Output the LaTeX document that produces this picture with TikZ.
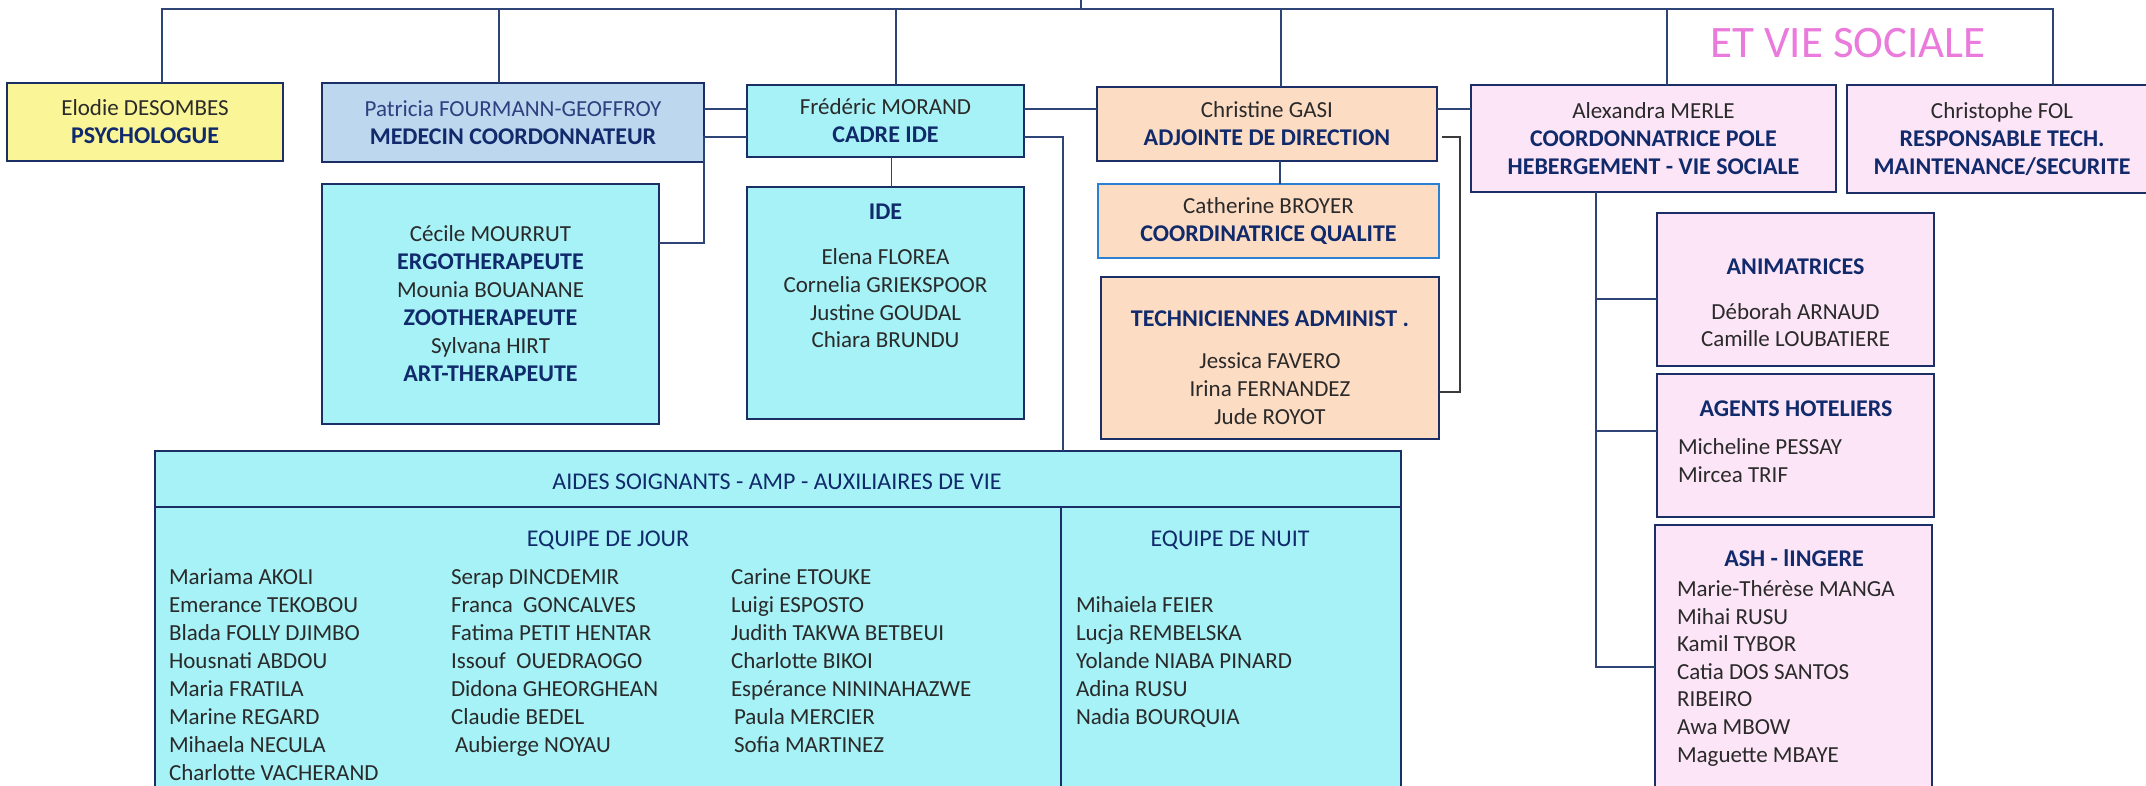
\documentclass[tikz,border=0pt]{standalone}
\usepackage{fontspec}
\setmainfont{Carlito}
\usepackage{xcolor}
\usepackage{tikz}
\usetikzlibrary{positioning}

\definecolor{boxline}{HTML}{1B2F66}
\definecolor{linkline}{HTML}{2F4476}
\definecolor{bracketcol}{HTML}{3A3A3A}
\definecolor{rolecol}{HTML}{102A6B}
\definecolor{patcol}{HTML}{2E4080}
\definecolor{namecol}{HTML}{2A2A2A}
\definecolor{yellowfill}{HTML}{FAF596}
\definecolor{bluefill}{HTML}{BDD7EE}
\definecolor{cyanfill}{HTML}{A6F2F6}
\definecolor{peachfill}{HTML}{FDDCC4}
\definecolor{pinkfill}{HTML}{FCE5F7}
\definecolor{qualline}{HTML}{2C80D2}
\definecolor{pinktitle}{HTML}{EA7ADC}

\newcommand{\roletxt}[1]{{\fontsize{24}{28}\selectfont\bfseries\color{rolecol}#1}}

\begin{document}
\begin{tikzpicture}[x=1pt,y=1pt]
\tikzstyle{every node}+=[inner sep=0pt, outer sep=0pt]
\tikzstyle{staff}=[draw=boxline, line width=2.5pt, align=center, text=namecol, font=\fontsize{23}{28}\selectfont]
\tikzstyle{link}=[draw=linkline, line width=1.5pt]
\tikzstyle{nameline}=[text=namecol, font=\fontsize{23}{28}\selectfont, text height=15pt, text depth=0pt]
\tikzstyle{teamline}=[text=rolecol, font=\fontsize{24}{28}\selectfont, text height=15pt, text depth=0pt]
\tikzstyle{headline}=[text=rolecol, font=\fontsize{24}{28}\selectfont\bfseries, text height=15pt, text depth=0pt]
\useasboundingbox (0,0) rectangle (2146,-785);
\clip (0,0) rectangle (2146,-785);

% top row
\node [staff, fill=yellowfill, minimum width=276pt, minimum height=78pt] (desombes) at (145,-122) {Elodie DESOMBES\\\roletxt{PSYCHOLOGUE}};
\node [staff, fill=bluefill, minimum width=382pt, minimum height=79pt] (fourmann) at (513,-122.5) {{\color{patcol}Patricia FOURMANN-GEOFFROY}\\\roletxt{MEDECIN COORDONNATEUR}};
\node [staff, fill=cyanfill, minimum width=277pt, minimum height=72pt] (morand) at (885.5,-121) {Frédéric MORAND\\\roletxt{CADRE IDE}};
\node [staff, fill=peachfill, minimum width=340pt, minimum height=74pt] (gasi) at (1267,-124) {Christine GASI\\\roletxt{ADJOINTE DE DIRECTION}};
\node [staff, fill=pinkfill, minimum width=365pt, minimum height=107pt] (merle) at (1653.5,-138.5) {Alexandra MERLE\\\roletxt{COORDONNATRICE POLE}\\\roletxt{HEBERGEMENT - VIE SOCIALE}};
\node [staff, fill=pinkfill, minimum width=310pt, minimum height=108pt] (fol) at (2002,-139) {Christophe FOL\\\roletxt{RESPONSABLE TECH.}\\\roletxt{MAINTENANCE/SECURITE}};
\node [text=pinktitle, font=\fontsize{45}{50}\selectfont, text height=29pt, text depth=0pt] (vie) at (1848,-43) {ET VIE SOCIALE};

% second row
\node [staff, fill=cyanfill, minimum width=337pt, minimum height=240pt] (therap) at (490.5,-304) {Cécile MOURRUT\\\roletxt{ERGOTHERAPEUTE}\\Mounia BOUANANE\\\roletxt{ZOOTHERAPEUTE}\\Sylvana HIRT\\\roletxt{ART-THERAPEUTE}};
\node [staff, fill=cyanfill, minimum width=277pt, minimum height=232pt] (ide) at (885.5,-303) {};
\node [headline] (ideT) at (885.5,-212) {IDE};
\node [nameline] (ide1) at (885.5,-257) {Elena FLOREA};
\node [nameline] (ide2) at (885.5,-285) {Cornelia GRIEKSPOOR};
\node [nameline] (ide3) at (885.5,-313) {Justine GOUDAL};
\node [nameline] (ide4) at (885.5,-340) {Chiara BRUNDU};
\node [staff, draw=qualline, line width=2pt, fill=peachfill, minimum width=341pt, minimum height=74pt] (broyer) at (1268.5,-221) {Catherine BROYER\\\roletxt{COORDINATRICE QUALITE}};
\node [staff, fill=peachfill, minimum width=338pt, minimum height=162pt] (tech) at (1270,-358) {};
\node [headline] (techT) at (1270,-319) {TECHNICIENNES ADMINIST .};
\node [nameline] (tech1) at (1270,-361) {Jessica FAVERO};
\node [nameline] (tech2) at (1270,-389) {Irina FERNANDEZ};
\node [nameline] (tech3) at (1270,-417) {Jude ROYOT};

% hebergement
\node [staff, fill=pinkfill, minimum width=277pt, minimum height=153pt] (anim) at (1795.5,-289.5) {};
\node [headline] (animT) at (1795.5,-267) {ANIMATRICES};
\node [nameline] (anim1) at (1795.5,-312) {Déborah ARNAUD};
\node [nameline] (anim2) at (1795.5,-339) {Camille LOUBATIERE};
\node [staff, fill=pinkfill, minimum width=277pt, minimum height=143pt] (agents) at (1795.5,-445.5) {};
\node [headline] (agentsT) at (1796,-409) {AGENTS HOTELIERS};
\node [nameline, anchor=west] (agents1) at (1678,-447) {Micheline PESSAY};
\node [nameline, anchor=west] (agents2) at (1678,-475) {Mircea TRIF};
\node [staff, fill=pinkfill, minimum width=277pt, minimum height=280pt] (ash) at (1793.5,-665) {};
\node [headline] (ashT) at (1794,-559) {ASH - lINGERE};
\node [nameline, anchor=west] (ash1) at (1677,-589) {Marie-Thérèse MANGA};
\node [nameline, anchor=west] (ash2) at (1677,-617) {Mihai RUSU};
\node [nameline, anchor=west] (ash3) at (1677,-644) {Kamil TYBOR};
\node [nameline, anchor=west] (ash4) at (1677,-672) {Catia DOS SANTOS};
\node [nameline, anchor=west] (ash5) at (1677,-699) {RIBEIRO};
\node [nameline, anchor=west] (ash6) at (1677,-727) {Awa MBOW};
\node [nameline, anchor=west] (ash7) at (1677,-755) {Maguette MBAYE};

% aides soignants
\node [staff, fill=cyanfill, minimum width=1246pt, minimum height=354pt] (aides) at (778,-628) {};
\draw [draw=boxline, line width=2.5pt] ([yshift=-56pt]aides.north west) -- ([yshift=-56pt]aides.north east);
\draw [draw=boxline, line width=1.5pt] ([xshift=906pt,yshift=-56pt]aides.north west) -- ([xshift=906pt]aides.south west);
\node [teamline] (aidesT) at (777,-482) {AIDES SOIGNANTS - AMP - AUXILIAIRES DE VIE};
\node [teamline] (jourT) at (608,-539) {EQUIPE DE JOUR};
\node [teamline] (nuitT) at (1230,-539) {EQUIPE DE NUIT};
\node [nameline, anchor=west] (jourA1) at (169,-577) {Mariama AKOLI};
\node [nameline, anchor=west] (jourA2) at (169,-605) {Emerance TEKOBOU};
\node [nameline, anchor=west] (jourA3) at (169,-633) {Blada FOLLY DJIMBO};
\node [nameline, anchor=west] (jourA4) at (169,-661) {Housnati ABDOU};
\node [nameline, anchor=west] (jourA5) at (169,-689) {Maria FRATILA};
\node [nameline, anchor=west] (jourA6) at (169,-717) {Marine REGARD};
\node [nameline, anchor=west] (jourA7) at (169,-745) {Mihaela NECULA};
\node [nameline, anchor=west] (jourA8) at (169,-773) {Charlotte VACHERAND};
\node [nameline, anchor=west] (jourB1) at (451,-577) {Serap DINCDEMIR};
\node [nameline, anchor=west] (jourB2) at (451,-605) {Franca~~GONCALVES};
\node [nameline, anchor=west] (jourB3) at (451,-633) {Fatima PETIT HENTAR};
\node [nameline, anchor=west] (jourB4) at (451,-661) {Issouf~~OUEDRAOGO};
\node [nameline, anchor=west] (jourB5) at (451,-689) {Didona GHEORGHEAN};
\node [nameline, anchor=west] (jourB6) at (451,-717) {Claudie BEDEL};
\node [nameline, anchor=west] (jourB7) at (455,-745) {Aubierge NOYAU};
\node [nameline, anchor=west] (jourC1) at (731,-577) {Carine ETOUKE};
\node [nameline, anchor=west] (jourC2) at (731,-605) {Luigi ESPOSTO};
\node [nameline, anchor=west] (jourC3) at (731,-633) {Judith TAKWA BETBEUI};
\node [nameline, anchor=west] (jourC4) at (731,-661) {Charlotte BIKOI};
\node [nameline, anchor=west] (jourC5) at (731,-689) {Espérance NININAHAZWE};
\node [nameline, anchor=west] (jourC6) at (734,-717) {Paula MERCIER};
\node [nameline, anchor=west] (jourC7) at (734,-745) {Sofia MARTINEZ};
\node [nameline, anchor=west] (nuit1) at (1076,-605) {Mihaiela FEIER};
\node [nameline, anchor=west] (nuit2) at (1076,-633) {Lucja REMBELSKA};
\node [nameline, anchor=west] (nuit3) at (1076,-661) {Yolande NIABA PINARD};
\node [nameline, anchor=west] (nuit4) at (1076,-689) {Adina RUSU};
\node [nameline, anchor=west] (nuit5) at (1076,-717) {Nadia BOURQUIA};

% links
\coordinate (bar) at (1081,-9);
\draw [link] (bar) -- ++(0,12);
\draw [link] ([xshift=17pt]desombes.north) |- (bar);
\draw [link] ([xshift=-14pt]fourmann.north) |- (bar);
\draw [link] ([xshift=10.5pt]morand.north) |- (bar);
\draw [link] ([xshift=14pt]gasi.north) |- (bar);
\draw [link] ([xshift=13.5pt]merle.north) |- (bar);
\draw [link] ([xshift=51pt]fol.north) |- (bar);
\draw [link] ([yshift=12pt]morand.west) -- ([yshift=12pt]morand.west -| fourmann.east);
\coordinate (therapK) at ([yshift=61pt]therap.east);
\draw [link] ([yshift=-16pt]morand.west) -| (therapK -| fourmann.east) -- (therapK);
\draw [link] ([xshift=6pt]morand.south) -- ([xshift=6pt]morand.south |- ide.north);
\draw [link] ([yshift=12pt]morand.east) -- ([yshift=12pt]morand.east -| gasi.west);
\draw [link] ([yshift=-16pt]morand.east) -| ([xshift=285pt]aides.north);
\draw [link] ([yshift=15pt]gasi.east) -- ([yshift=15pt]gasi.east -| merle.west);
\draw [link] ([xshift=13pt]gasi.south) -- ([xshift=13pt]gasi.south |- broyer.north);
\draw [draw=bracketcol, line width=1.5pt] ([xshift=5pt,yshift=-13pt]gasi.east) -- ++(18,0) |- ([yshift=-34pt]tech.east);
\draw [link] ([xshift=-57.5pt]merle.south) |- ([yshift=-9.5pt]anim.west);
\draw [link] ([xshift=-57.5pt]merle.south) |- ([yshift=14.5pt]agents.west);
\draw [link] ([xshift=-57.5pt]merle.south) |- ([yshift=-2pt]ash.west);
\end{tikzpicture}
\end{document}
